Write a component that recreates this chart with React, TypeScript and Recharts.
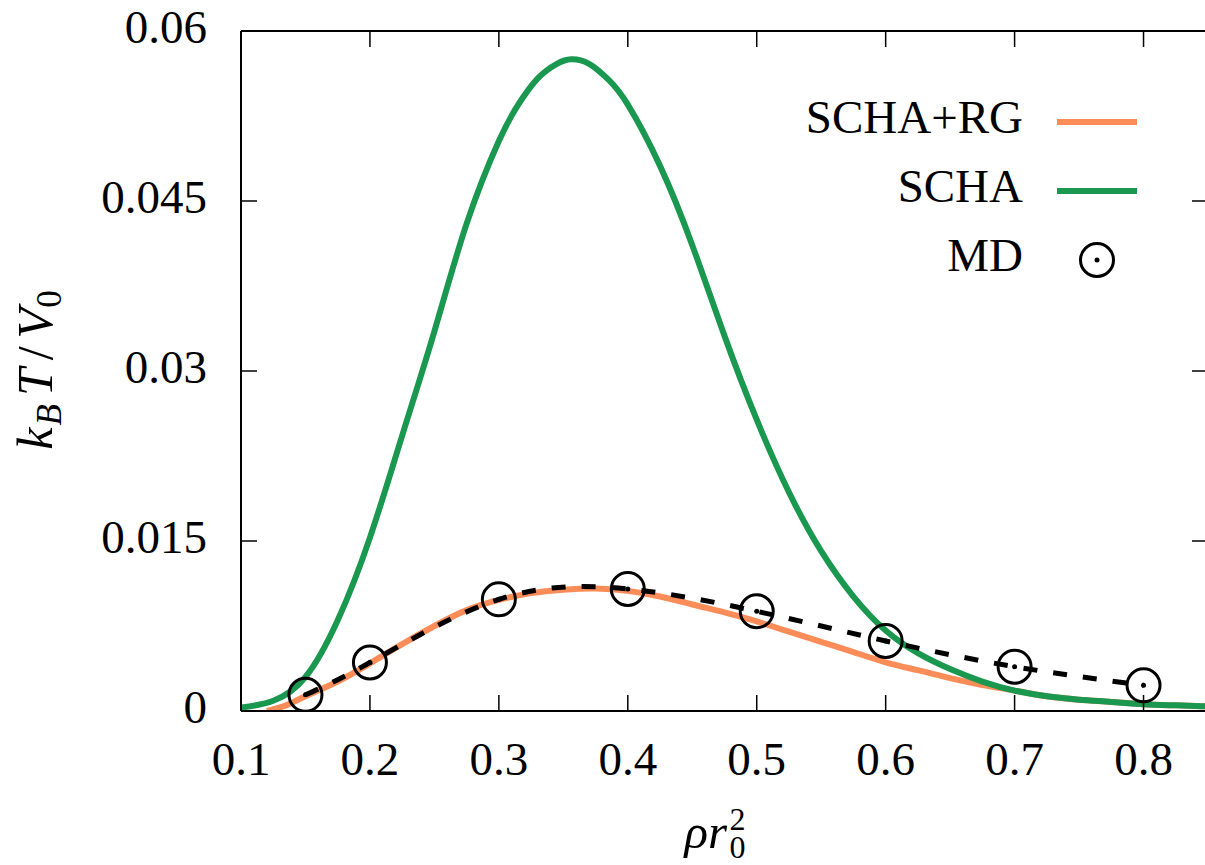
import React from 'react';
import { LineChart, Line, XAxis, YAxis, ReferenceLine, Legend } from 'recharts';

// ---------- data ----------
const schaRho = [0.1, 0.125, 0.15, 0.175, 0.2, 0.225, 0.25, 0.275, 0.3, 0.315, 0.33, 0.345, 0.356, 0.37, 0.385, 0.4, 0.425, 0.45, 0.475, 0.5, 0.525, 0.55, 0.575, 0.6, 0.625, 0.65, 0.675, 0.7, 0.725, 0.75, 0.775, 0.8, 0.825, 0.85];
const schaVals = [0.0003, 0.0009, 0.003, 0.008, 0.0153, 0.0243, 0.0335, 0.043, 0.0503, 0.0535, 0.0558, 0.0571, 0.0575, 0.0571, 0.0557, 0.0535, 0.0481, 0.0411, 0.0331, 0.0257, 0.0193, 0.0141, 0.0101, 0.0071, 0.0051, 0.0037, 0.0026, 0.0018, 0.0013, 0.001, 0.0008, 0.0006, 0.0005, 0.0004];

const rgRho = [0.12, 0.135, 0.15, 0.175, 0.2, 0.225, 0.25, 0.275, 0.3, 0.325, 0.35, 0.375, 0.4, 0.425, 0.45, 0.475, 0.5, 0.525, 0.55, 0.575, 0.6, 0.625, 0.65, 0.675, 0.7, 0.725, 0.75, 0.775, 0.8, 0.825, 0.85];
const rgVals = [0.0, 0.0005, 0.0013, 0.0026, 0.0042, 0.0059, 0.0075, 0.0089, 0.0098, 0.0104, 0.0107, 0.0108, 0.0106, 0.0101, 0.0094, 0.0087, 0.0079, 0.007, 0.0061, 0.0052, 0.0043, 0.0036, 0.0029, 0.0023, 0.0018, 0.0013, 0.001, 0.0008, 0.0006, 0.0005, 0.0004];

const mdRho = [0.15, 0.2, 0.3, 0.4, 0.5, 0.6, 0.7, 0.8];
const mdVals = [0.00143, 0.00428, 0.00985, 0.01077, 0.0088, 0.00618, 0.00391, 0.00227];

const xTicks = [0.1, 0.2, 0.3, 0.4, 0.5, 0.6, 0.7, 0.8];
const xTickLabels = ['0.1', '0.2', '0.3', '0.4', '0.5', '0.6', '0.7', '0.8'];
const yTicks = [0, 0.015, 0.03, 0.045, 0.06];
const yTickLabels = ['0', '0.015', '0.03', '0.045', '0.06'];

const seriesNames = ['SCHA+RG', 'SCHA', 'MD'];

const schaData = schaRho.map((x, i) => ({ x, y: schaVals[i] }));
const rgData = rgRho.map((x, i) => ({ x, y: rgVals[i] }));
const mdData = mdRho.map((x, i) => ({ x, y: mdVals[i] }));

// ---------- layout ----------
const W = 1212;
const H = 865;
const M_TOP = 31;
const M_RIGHT = 4;
const Y_AXIS_W = 100;
const X_AXIS_H = 60;
const PLOT_LEFT = 241;
const PLOT_TOP = M_TOP;
const PLOT_RIGHT = W - M_RIGHT;
const PLOT_BOTTOM = 711;
const M_LEFT = PLOT_LEFT - Y_AXIS_W;
const M_BOTTOM = H - PLOT_BOTTOM - X_AXIS_H;
const TICK = 16;

const ORANGE = '#fc8d59';
const GREEN = '#1a9850';
const FONT = 'Liberation Serif';

const XTick = (props: any) => {
  const { x, payload } = props;
  const idx = xTicks.indexOf(payload.value);
  return (
    <g>
      <line x1={x} y1={PLOT_BOTTOM} x2={x} y2={PLOT_BOTTOM - TICK} stroke="#000" strokeWidth={1.5} />
      <line x1={x} y1={PLOT_TOP} x2={x} y2={PLOT_TOP + TICK} stroke="#000" strokeWidth={1.5} />
      <text x={x} y={PLOT_BOTTOM + 64} textAnchor="middle" style={{ fontFamily: FONT }} fontSize={47} fill="#000">
        {idx >= 0 ? xTickLabels[idx] : ''}
      </text>
    </g>
  );
};

const YTick = (props: any) => {
  const { y, payload } = props;
  const idx = yTicks.indexOf(payload.value);
  return (
    <g>
      <line x1={PLOT_LEFT} y1={y} x2={PLOT_LEFT + TICK} y2={y} stroke="#000" strokeWidth={1.5} />
      <line x1={PLOT_RIGHT - TICK} y1={y} x2={PLOT_RIGHT} y2={y} stroke="#000" strokeWidth={1.5} />
      <text x={207} y={y + 12} textAnchor="end" style={{ fontFamily: FONT }} fontSize={47} fill="#000">
        {idx >= 0 ? yTickLabels[idx] : ''}
      </text>
    </g>
  );
};

const XLabel = (props: any) => {
  const vb = props.viewBox || { x: PLOT_LEFT, y: PLOT_BOTTOM, width: PLOT_RIGHT - PLOT_LEFT, height: X_AXIS_H };
  const cx = vb.x + vb.width / 2;
  const base = vb.y + 137;
  return (
    <g fill="#000">
      <text x={cx - 40} y={base} fontSize={49} fontStyle="italic" style={{ fontFamily: FONT }}>ρr</text>
      <text x={cx + 5} y={base - 18} fontSize={32} style={{ fontFamily: FONT }}>2</text>
      <text x={cx + 5} y={base + 10} fontSize={32} style={{ fontFamily: FONT }}>0</text>
    </g>
  );
};

const YLabel = () => {
  const cx = 52;
  const cy = 370;
  return (
    <text
      x={cx}
      y={cy}
      transform={`rotate(-90, ${cx}, ${cy})`}
      textAnchor="middle"
      style={{ fontFamily: FONT }}
      fontSize={50}
      fill="#000"
    >
      <tspan fontStyle="italic">k</tspan>
      <tspan fontStyle="italic" fontSize={35} dy={9} dx={2}>B</tspan>
      <tspan fontStyle="italic" dy={-9} dx={8}>T</tspan>
      <tspan dx={8}>/</tspan>
      <tspan fontStyle="italic" dx={8}>V</tspan>
      <tspan fontSize={35} dy={9} dx={0}>0</tspan>
    </text>
  );
};

const MdDot = (p: any) => {
  if (p.cx == null || p.cy == null) return <g key={`md-${p.index}`} />;
  return (
    <g key={`md-${p.index}`}>
      <circle cx={p.cx} cy={p.cy} r={16.5} fill="none" stroke="#000" strokeWidth={3} />
      <circle cx={p.cx} cy={p.cy} r={2.5} fill="#000" />
    </g>
  );
};

const rowCenters = [32, 101, 170];

const LegendContent = (props: any) => {
  const payload = ((props && props.payload) || []).slice();
  payload.sort((a: any, b: any) => seriesNames.indexOf(a.value) - seriesNames.indexOf(b.value));
  return (
    <svg width={420} height={200} style={{ display: 'block', overflow: 'visible' }}>
      {payload.map((entry: any, i: number) => {
        const cy = rowCenters[i] ?? 32 + i * 69;
        return (
          <g key={`leg-${i}`}>
            <text x={243} y={cy + 11} textAnchor="end" style={{ fontFamily: FONT }} fontSize={47} fill="#000">
              {entry.value}
            </text>
            {entry.type === 'circle' ? (
              <g>
                <circle cx={317} cy={cy} r={16.5} fill="none" stroke="#000" strokeWidth={3} />
                <circle cx={317} cy={cy} r={2.5} fill="#000" />
              </g>
            ) : (
              <line x1={277} y1={cy} x2={357} y2={cy} stroke={entry.color} strokeWidth={6} />
            )}
          </g>
        );
      })}
    </svg>
  );
};

export default function App() {
  return (
    <div style={{ position: 'absolute', left: 0, top: 0, width: 1205, height: 865, overflow: 'hidden', background: '#fff' }}>
      <LineChart
        width={W}
        height={H}
        margin={{ top: M_TOP, right: M_RIGHT, bottom: M_BOTTOM, left: M_LEFT }}
      >
        <XAxis
          dataKey="x"
          type="number"
          domain={[0.1, 0.85]}
          allowDataOverflow
          ticks={xTicks}
          interval={0}
          tickLine={false}
          tickSize={0}
          tickMargin={0}
          height={X_AXIS_H}
          axisLine={{ stroke: '#000', strokeWidth: 2 }}
          tick={<XTick />}
          label={{ content: <XLabel /> }}
        />
        <YAxis
          type="number"
          domain={[0, 0.06]}
          allowDataOverflow
          ticks={yTicks}
          interval={0}
          tickLine={false}
          tickSize={0}
          tickMargin={0}
          width={Y_AXIS_W}
          axisLine={{ stroke: '#000', strokeWidth: 2 }}
          tick={<YTick />}
          label={{ content: <YLabel /> }}
        />
        <ReferenceLine y={0.06} stroke="#000" strokeWidth={2} ifOverflow="visible" />
        <ReferenceLine x={0.85} stroke="#000" strokeWidth={2} ifOverflow="visible" />
        <Legend
          layout="vertical"
          align="center"
          verticalAlign="middle"
          content={<LegendContent />}
          wrapperStyle={{ position: 'absolute', left: 780, top: 90, width: 420, height: 200 }}
        />
        <Line
          data={rgData}
          dataKey="y"
          name={seriesNames[0]}
          type="natural"
          stroke={ORANGE}
          strokeWidth={6}
          dot={false}
          activeDot={false}
          legendType="line"
          isAnimationActive={false}
        />
        <Line
          data={schaData}
          dataKey="y"
          name={seriesNames[1]}
          type="natural"
          stroke={GREEN}
          strokeWidth={6}
          dot={false}
          activeDot={false}
          legendType="line"
          isAnimationActive={false}
        />
        <Line
          data={mdData}
          dataKey="y"
          name={seriesNames[2]}
          type="natural"
          stroke="#000"
          strokeWidth={5}
          strokeDasharray="14 16"
          dot={MdDot}
          activeDot={false}
          legendType="circle"
          isAnimationActive={false}
        />
      </LineChart>
    </div>
  );
}
